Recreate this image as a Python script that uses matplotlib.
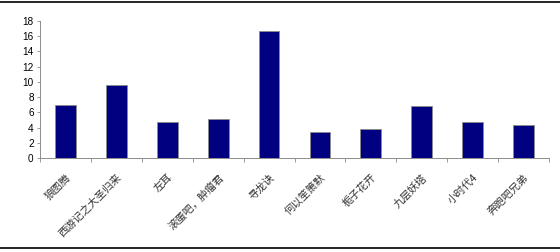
import numpy as np
import matplotlib
matplotlib.use("Agg")
import matplotlib.pyplot as plt
from matplotlib.lines import Line2D

plt.rcParams["font.family"] = ["Liberation Sans", "Noto Sans CJK SC", "DejaVu Sans"]

# Données
films = ["狼图腾", "西游记之大圣归来", "左耳", "滚蛋吧，肿瘤君", "寻龙诀",
         "何以笙箫默", "栀子花开", "九层妖塔", "小时代4", "奔跑吧兄弟"]
valeurs = [7.0, 9.6, 4.8, 5.1, 16.7, 3.5, 3.8, 6.8, 4.8, 4.3]
yticks = [0, 2, 4, 6, 8, 10, 12, 14, 16, 18]

fig = plt.figure(figsize=(5.6, 2.52), dpi=100)
ax = fig.add_axes([40 / 560, 1 - 158.3 / 252, 509 / 560, (158.3 - 20.7) / 252])

x = np.arange(len(films))
ax.bar(x, valeurs, width=0.41, color="#000080", edgecolor="#8c8c8c", linewidth=0.6)

ax.set_xlim(-0.5, len(films) - 0.5)
ax.set_ylim(0, 18)
ax.set_yticks(yticks)
ax.tick_params(axis="y", length=2.5, width=0.6, color="#8c8c8c", labelsize=7.2, pad=2)

# catégories : traits entre les barres, étiquettes centrées
ax.set_xticks(x)
ax.set_xticks(np.arange(-0.5, len(films)), minor=True)
ax.tick_params(axis="x", which="major", length=0, pad=10)
ax.tick_params(axis="x", which="minor", length=3, width=0.6, color="#8c8c8c")
ax.set_xticklabels(films, rotation=45, ha="right", rotation_mode="anchor",
                   fontsize=7.6, family=["Noto Sans CJK SC", "DejaVu Sans"], color="#333333")

for side in ["top", "right"]:
    ax.spines[side].set_visible(False)
for side in ["left", "bottom"]:
    ax.spines[side].set_color("#8c8c8c")
    ax.spines[side].set_linewidth(0.7)

# cadre haut/bas de la figure
fig.add_artist(Line2D([0, 1], [1 - 1.5 / 252] * 2, color="black", linewidth=1.2))
fig.add_artist(Line2D([0, 1], [1 - 248.3 / 252] * 2, color="black", linewidth=1.2))

fig.savefig("out.png", dpi=100)
